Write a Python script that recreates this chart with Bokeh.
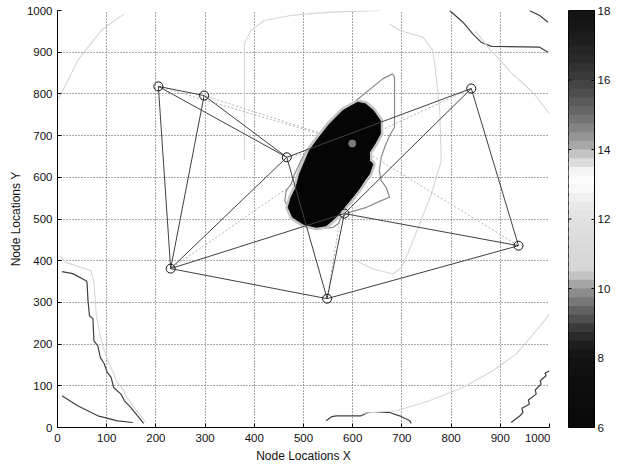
from bokeh.plotting import figure
from bokeh.layouts import row
from bokeh.models import Range1d, FixedTicker
from bokeh.embed import file_html
from bokeh.resources import INLINE

FONT = "Liberation Sans"

# ---- data ----
node_x = [205, 298, 466, 230, 548, 583, 841, 937]
node_y = [818, 796, 648, 381, 309, 513, 813, 436]
edge_from = [0, 0, 0, 1, 1, 2, 2, 2, 5, 5, 6, 7, 4, 3, 3]
edge_to   = [1, 3, 2, 2, 3, 3, 6, 4, 6, 7, 7, 4, 5, 4, 5]
target_x = [599]
target_y = [681]

# dark contour lines
c1_x = [9, 31, 58, 60, 62, 65, 72, 74, 82, 87, 95, 101, 109, 114, 129, 136, 146, 160, 175]
c1_y = [374, 369, 352, 348, 304, 268, 261, 208, 196, 168, 153, 132, 120, 96, 80, 64, 52, 32, 10]
c2_x = [9, 41, 82, 122, 153]
c2_y = [76, 52, 28, 16, 12]
c3_x = [546, 557, 567, 617, 631, 675, 695, 716, 719]
c3_y = [16, 26, 28, 28, 36, 36, 28, 16, 10]
c4_x = [922, 940, 946, 944, 959, 957, 973, 971, 983, 981, 993, 991, 1000]
c4_y = [12, 28, 36, 46, 56, 66, 80, 90, 104, 112, 124, 130, 136]
c5_x = [797, 824, 844, 861, 882, 980, 997]
c5_y = [1000, 972, 944, 924, 914, 912, 900]
c6_x = [959, 980, 997]
c6_y = [1000, 988, 972]

# light contour lines
l1_x = [5, 17, 68, 74, 77, 79, 87, 92, 100, 106, 114, 120, 134, 141, 151, 165, 180]
l1_y = [412, 396, 376, 348, 304, 268, 220, 196, 168, 150, 130, 110, 90, 72, 56, 34, 12]
l2_x = [0, 14, 28, 41, 62, 89, 116, 136]
l2_y = [785, 816, 848, 880, 912, 952, 976, 992]
l3_x = [380, 380, 393, 420, 474, 508, 560, 655]
l3_y = [640, 920, 952, 976, 988, 992, 996, 1000]
l4_x = [675, 695, 743, 763, 770, 777, 780, 760, 730, 709, 699, 682, 641, 607]
l4_y = [968, 952, 936, 904, 840, 760, 640, 560, 470, 408, 384, 368, 380, 400]
l5_x = [850, 880, 925, 966, 1000]
l5_y = [950, 905, 848, 804, 752]
l6_x = [621, 689, 756, 824, 885, 932, 973, 1000]
l6_y = [34, 40, 64, 96, 136, 176, 232, 272]

# contour around the dense region
ring_x = [681, 685, 685, 675, 665, 658, 654, 658, 668, 675, 658, 628, 593, 577, 570, 560,
          526, 499, 475, 462, 465, 475, 482, 495, 506, 526, 566, 607, 661, 681]
ring_y = [848, 840, 720, 700, 672, 648, 616, 592, 576, 552, 544, 528, 516, 504, 488, 480,
          476, 488, 512, 544, 568, 584, 608, 640, 664, 696, 744, 784, 836, 848]

# dense (black) region
blob_x = [610, 626, 642, 656, 656, 645, 634, 634, 641, 634, 624, 613, 600, 583, 566, 546,
          526, 499, 478, 469, 475, 485, 492, 502, 512, 529, 553, 580]
blob_y = [780, 776, 760, 736, 704, 680, 660, 640, 632, 608, 592, 572, 552, 528, 504, 484,
          480, 488, 504, 528, 552, 576, 608, 636, 664, 692, 728, 760]

# colour bar
cbar_ticks = [6, 8, 10, 12, 14, 16, 18]
cbar_palette = [
    "#0a0a0a", "#0a0a0a", "#0c0c0c", "#0c0c0c", "#0e0e0e", "#0e0e0e", "#101010", "#121212",
    "#161616", "#1e1e1e", "#2a2a2a", "#3a3a3a",
    "#505050", "#626262", "#787878", "#8c8c8c",
    "#a4a4a4", "#c4c4c4",
    "#d6d6d6", "#d8d8d8", "#dadada", "#dcdcdc", "#dedede", "#e0e0e0",
    "#e4e4e4", "#e8e8e8", "#f0f0f0", "#f8f8f8",
    "#fcfcfc", "#f4f4f4", "#dcdcdc", "#c4c4c4",
    "#a8a8a8", "#949494", "#848484", "#747474",
    "#666666", "#5a5a5a", "#4e4e4e", "#444444",
    "#3a3a3a", "#323232", "#2a2a2a", "#242424",
    "#1e1e1e", "#1a1a1a", "#161616", "#141414",
]
cbar_min, cbar_max = 6, 18

axis_ticks = [0, 100, 200, 300, 400, 500, 600, 700, 800, 900, 1000]

TOP = 10
BOTTOM = 38
FH = 417

# ---- main figure ----
p = figure(frame_width=492, frame_height=FH, x_range=Range1d(0, 1000), y_range=Range1d(0, 1000),
           output_backend="svg", toolbar_location=None,
           min_border_left=57, min_border_right=1, min_border_top=TOP, min_border_bottom=BOTTOM)
p.outline_line_color = None
p.background_fill_color = "white"
p.border_fill_color = "white"

for ax in (p.xaxis[0], p.yaxis[0]):
    ax.ticker = FixedTicker(ticks=axis_ticks)
    ax.major_tick_in = 4
    ax.major_tick_out = 0
    ax.minor_tick_line_color = None
    ax.axis_line_color = "black"
    ax.major_tick_line_color = "black"
    ax.major_label_text_font = FONT
    ax.major_label_text_font_size = "11.5px"
    ax.major_label_text_color = "#111111"
    ax.axis_label_text_font = FONT
    ax.axis_label_text_font_size = "12px"
    ax.axis_label_text_font_style = "normal"
    ax.axis_label_text_color = "#111111"
p.xaxis.axis_label = "Node Locations X"
p.yaxis.axis_label = "Node Locations Y"
p.xaxis.axis_label_standoff = 4
p.yaxis.axis_label_standoff = 1
p.xaxis.major_label_standoff = 6
p.yaxis.major_label_standoff = 5

for g in (p.xgrid[0], p.ygrid[0]):
    g.ticker = FixedTicker(ticks=axis_ticks)
    g.grid_line_color = "#505050"
    g.grid_line_dash = "1 2"
    g.grid_line_width = 1

dark_xs = [c1_x, c2_x, c3_x, c4_x, c5_x, c6_x]
dark_ys = [c1_y, c2_y, c3_y, c4_y, c5_y, c6_y]
p.multi_line(dark_xs, dark_ys, line_color="#3e3e3e", line_width=1.2)

light_xs = [l1_x, l2_x, l3_x, l4_x, l5_x, l6_x]
light_ys = [l1_y, l2_y, l3_y, l4_y, l5_y, l6_y]
p.multi_line(light_xs, light_ys, line_color="#d6d6d6", line_width=1.1)

p.line(ring_x, ring_y, line_color="#8a8a8a", line_width=1.2)

# dotted lines from the estimate to each node
dot_xs = [[target_x[0], x] for x in node_x]
dot_ys = [[target_y[0], y] for y in node_y]
p.multi_line(dot_xs, dot_ys, line_color="#b4b4b4", line_dash="2 2", line_width=1)

p.patch(blob_x, blob_y, fill_color=None, line_color="#c4c4c4", line_width=6)
p.patch(blob_x, blob_y, fill_color="#050505", line_color="#050505", line_width=1)

edge_xs = [[node_x[a], node_x[b]] for a, b in zip(edge_from, edge_to)]
edge_ys = [[node_y[a], node_y[b]] for a, b in zip(edge_from, edge_to)]
p.multi_line(edge_xs, edge_ys, line_color="#404040", line_width=1)

p.scatter(node_x, node_y, marker="circle", size=9, fill_color=None,
          line_color="#111111", line_width=1)
p.scatter(target_x, target_y, marker="circle", size=7, fill_color="#7a7a7a",
          line_color="#7a7a7a")

# ---- colour bar figure ----
cb = figure(frame_width=26, frame_height=FH, x_range=Range1d(0, 1),
            y_range=Range1d(cbar_min, cbar_max),
            output_backend="svg", toolbar_location=None, y_axis_location="right",
            min_border_left=18, min_border_right=22, min_border_top=TOP, min_border_bottom=BOTTOM)
n = len(cbar_palette)
step = (cbar_max - cbar_min) / n
bottoms = [cbar_min + i * step for i in range(n)]
tops = [min(b + 1.6 * step, cbar_max) for b in bottoms]
cb.quad(left=0, right=1, bottom=bottoms, top=tops, fill_color=cbar_palette, line_color=None)
cb.outline_line_color = "black"
cb.xaxis.visible = False
cb.xgrid.visible = False
cb.ygrid.visible = False
ya = cb.yaxis[0]
ya.ticker = FixedTicker(ticks=cbar_ticks)
ya.major_tick_in = 3
ya.major_tick_out = 0
ya.minor_tick_line_color = None
ya.axis_line_color = "black"
ya.major_tick_line_color = "black"
ya.major_label_text_font = FONT
ya.major_label_text_font_size = "11.5px"
ya.major_label_text_color = "#111111"
ya.major_label_standoff = 3
# inward ticks on the left edge of the bar
cb.segment(x0=0, x1=0.11, y0=cbar_ticks[1:-1], y1=cbar_ticks[1:-1],
           line_color="black", line_width=1)

layout = row(p, cb)
open("out.html", "w").write(file_html(layout, INLINE))
